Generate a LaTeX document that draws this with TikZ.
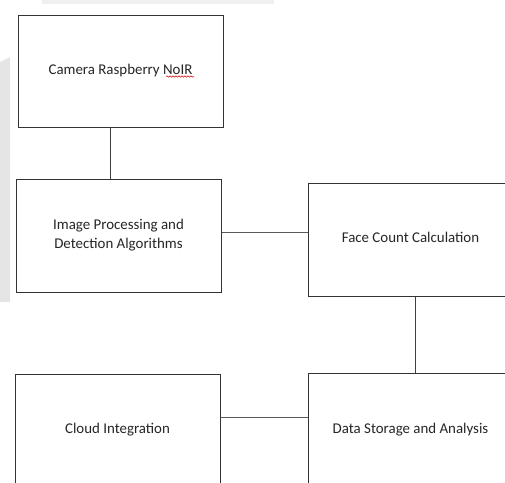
\documentclass[tikz,border=0pt]{standalone}
\usepackage{fontspec}
\setmainfont{Carlito}
\usetikzlibrary{decorations.pathmorphing}
\begin{document}
\begin{tikzpicture}[x=1pt,y=-1pt,
  box/.style={draw=black!80,line width=1pt,fill=white,minimum width=205pt,minimum height=113pt,inner sep=0pt,align=center,font=\fontsize{14.9}{19}\selectfont,text=black!85},
  link/.style={draw=black!75,line width=0.9pt},
  thinlink/.style={draw=black!65,line width=0.8pt}]
\useasboundingbox (0,0) rectangle (505,482);
\clip (0,0) rectangle (505,482);
\fill[black!6] (42,0) rectangle (274,4);
\fill[black!10] (0,62) -- (10,57) -- (10,302) -- (0,302) -- cycle;
\node[box,minimum height=112pt] (b1) at (120.5,71) {\raisebox{2pt}{Camera Raspberry NoIR}};
\node[box] (b2) at (118.5,235.5) {\raisebox{4pt}{\begin{tabular}{c}Image Processing and\\Detection Algorithms\end{tabular}}};
\node[box] (b3) at (410.5,239.5) {\raisebox{5pt}{Face Count Calculation}};
\node[box] (b4) at (410.5,429.5) {\raisebox{3pt}{Data Storage and Analysis}};
\node[box] (b5) at (117.5,430.5) {\raisebox{4pt}{Cloud Integration}};
\draw[red!80!black,line width=0.5pt,decorate,decoration={snake,amplitude=0.7pt,segment length=3pt}] (166,76.5) -- (194,76.5);
\coordinate (v1) at (110,0);
\coordinate (v2) at (415,0);
\coordinate (h1) at (0,232);
\coordinate (h2) at (0,417);
\draw[link] (b1.south -| v1) -- (b2.north -| v1);
\draw[thinlink] (b2.east |- h1) -- (b3.west |- h1);
\draw[link] (b3.south -| v2) -- (b4.north -| v2);
\draw[thinlink] (b5.east |- h2) -- (b4.west |- h2);
\end{tikzpicture}
\end{document}
